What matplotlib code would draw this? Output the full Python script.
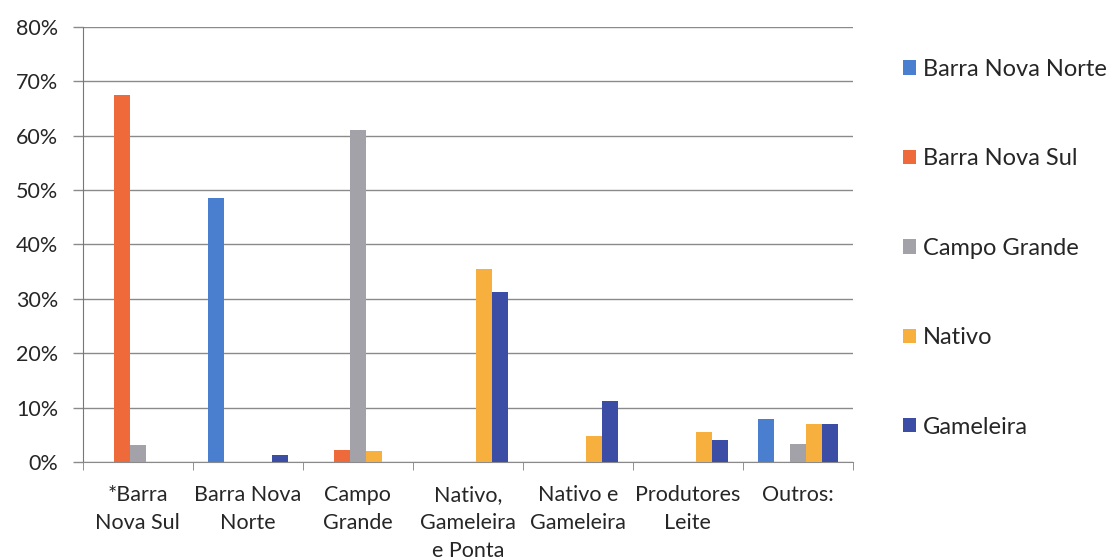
import numpy as np
import matplotlib.pyplot as plt
from matplotlib.ticker import FuncFormatter, MultipleLocator

plt.rcParams['font.family'] = ['Lato', 'DejaVu Sans']

# categories (x axis)
categories = ["*Barra\nNova Sul", "Barra Nova\nNorte", "Campo\nGrande",
              "Nativo,\nGameleira\ne Ponta", "Nativo e\nGameleira",
              "Produtores\nLeite", "Outros:"]

# series values in percent
series_names = ["Barra Nova Norte", "Barra Nova Sul", "Campo Grande", "Nativo", "Gameleira"]
barra_nova_norte = [0, 48.6, 0, 0, 0, 0, 7.9]
barra_nova_sul = [67.4, 0, 2.2, 0, 0, 0, 0]
campo_grande = [3.2, 0, 61.1, 0, 0, 0, 3.3]
nativo = [0, 0, 2.0, 35.4, 4.8, 5.5, 7.0]
gameleira = [0, 1.3, 0, 31.3, 11.3, 4.1, 7.0]

colors = ["#4a7fd0", "#ee6a3a", "#a2a2a8", "#f7b03e", "#3b4da5"]
values = [barra_nova_norte, barra_nova_sul, campo_grande, nativo, gameleira]

fig = plt.figure(figsize=(11.13, 5.6), dpi=100)
ax = fig.add_axes([0.0743, 0.175, 0.692, 0.777])

x = np.arange(len(categories))
w = 0.145
for i, (name, vals, col) in enumerate(zip(series_names, values, colors)):
    ax.bar(x + (i - 2) * w, vals, width=w, color=col, label=name, zorder=3)

ax.set_xlim(-0.5, len(categories) - 0.5)
ax.set_ylim(0, 80)
ax.yaxis.set_major_locator(MultipleLocator(10))
ax.yaxis.set_major_formatter(FuncFormatter(lambda v, p: f"{v:.0f}%"))
ax.grid(axis='y', color='#8a8a8a', linewidth=1.0, zorder=0)

ax.set_xticks(x)
ax.set_xticklabels(categories, fontsize=15.5, color='#262626', linespacing=1.5)
ax.set_xticks(np.arange(-0.5, len(categories)), minor=True)
ax.tick_params(axis='x', which='major', length=0, pad=16.5)
ax.tick_params(axis='x', which='minor', length=6, color='#808080', direction='out')
ax.tick_params(axis='y', length=7, color='#8a8a8a', width=1.0,
               labelsize=15.5, labelcolor='#262626', pad=10.5)

for s in ['top', 'right']:
    ax.spines[s].set_visible(False)
ax.spines['left'].set_color('#777777')
ax.spines['bottom'].set_color('#8a8a8a')

fig.legend(loc='upper left', bbox_to_anchor=(0.811, 0.895), frameon=False,
           fontsize=17, handlelength=0.55, handleheight=0.55, handletextpad=0.3,
           labelspacing=2.9, labelcolor='#262626', borderaxespad=0, borderpad=0)

fig.savefig("out.png", dpi=100)
